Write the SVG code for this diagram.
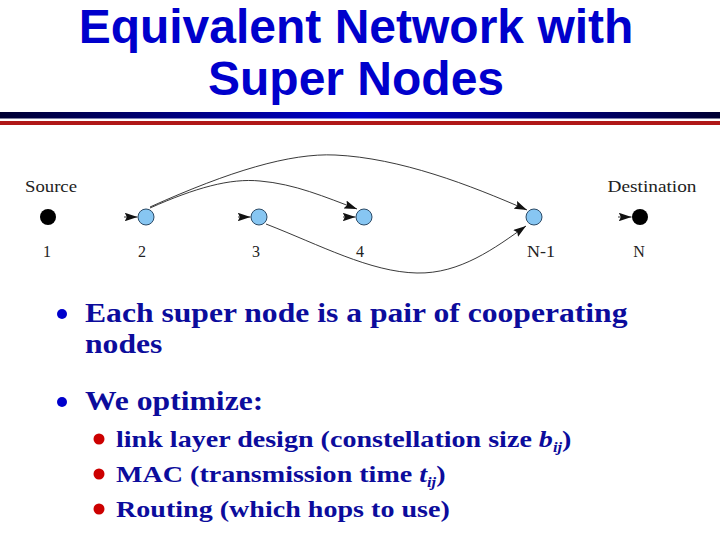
<svg xmlns="http://www.w3.org/2000/svg" width="720" height="540" viewBox="0 0 720 540">
<defs>
<linearGradient id="band" x1="0" y1="0" x2="1" y2="0">
<stop offset="0" stop-color="#000033"/>
<stop offset="0.5" stop-color="#0000cc"/>
<stop offset="1" stop-color="#000033"/>
</linearGradient>
<marker id="arr" viewBox="0 0 12 8" refX="12" refY="4" markerWidth="13" markerHeight="8.5" markerUnits="userSpaceOnUse" orient="auto">
<path d="M0,0 L12,4 L0,8 L2,4 z" fill="#111"/>
</marker>
<style>
.title{font-family:"Liberation Sans",Arial,sans-serif;font-weight:bold;font-size:48px;fill:#0000cc;text-anchor:middle}
.body{font-family:"Liberation Serif","Times New Roman",serif;font-weight:bold;fill:#0c0c9c}
.lbl{font-family:"Liberation Serif","Times New Roman",serif;font-size:16px;fill:#222}
.sn{fill:#87c6f2;stroke:#2c4a66;stroke-width:1}
.end{fill:#000}
.edge{fill:none;stroke:#222;stroke-width:0.9;marker-end:url(#arr)}
.bb{fill:#0000cc}
.rb{fill:#cc0000}
</style>
</defs>
<rect width="720" height="540" fill="#fff"/>
<text class="title" x="356" y="43">Equivalent Network with</text>
<text class="title" x="356" y="95">Super Nodes</text>
<rect x="0" y="112" width="720" height="6.5" fill="url(#band)"/>
<rect x="0" y="121" width="720" height="4" fill="#b01818"/>

<g id="connectors">
<path class="edge" d="M124,217 L137.5,217"/>
<path class="edge" d="M238,217 L250.5,217"/>
<path class="edge" d="M343,217 L355.5,217"/>
<path class="edge" d="M618,217 L631.5,217"/>
<path class="edge" d="M150,208 C195,188 230,178 260,181 C295,184 325,197 357,209"/>
<path class="edge" d="M150,207 C230,171 290,153 335,155 C400,158 470,185 527,210"/>
<path class="edge" d="M266,224 C320,245 370,272 417,273 C460,274 495,248 526,226"/>
</g>

<g id="n1"><circle class="end" cx="48" cy="217" r="8"/><text class="lbl" x="51" y="192" text-anchor="middle" textLength="52" lengthAdjust="spacingAndGlyphs">Source</text><text class="lbl" x="47" y="257" text-anchor="middle">1</text></g>
<g id="n2"><circle class="sn" cx="146" cy="217" r="8"/><text class="lbl" x="142" y="257" text-anchor="middle">2</text></g>
<g id="n3"><circle class="sn" cx="259" cy="217" r="8"/><text class="lbl" x="256" y="257" text-anchor="middle">3</text></g>
<g id="n4"><circle class="sn" cx="364" cy="217" r="8"/><text class="lbl" x="360" y="257" text-anchor="middle">4</text></g>
<g id="nN1"><circle class="sn" cx="534" cy="217" r="8"/><text class="lbl" x="541" y="257" text-anchor="middle" textLength="28" lengthAdjust="spacingAndGlyphs">N-1</text></g>
<g id="nN"><circle class="end" cx="640" cy="217" r="8"/><text class="lbl" x="652" y="192" text-anchor="middle" textLength="89" lengthAdjust="spacingAndGlyphs">Destination</text><text class="lbl" x="639" y="257" text-anchor="middle">N</text></g>

<g id="bullets">
<circle class="bb" cx="62" cy="314" r="5"/>
<circle class="bb" cx="62" cy="402" r="5"/>
<circle class="rb" cx="99" cy="439" r="5.5"/>
<circle class="rb" cx="99" cy="474" r="5.5"/>
<circle class="rb" cx="99" cy="509" r="5.5"/>
<g transform="translate(85,0) scale(1.15,1)">
<text class="body" x="0" y="322" font-size="27.5">Each super node is a pair of cooperating</text>
<text class="body" x="0" y="353" font-size="27.5">nodes</text>
<text class="body" x="0" y="410" font-size="27.5">We optimize:</text>
</g>
<g transform="translate(116,0) scale(1.17,1)">
<text class="body" x="0" y="447" font-size="24">link layer design (constellation size <tspan font-style="italic">b</tspan><tspan font-style="italic" font-size="14" dy="5">ij</tspan><tspan dy="-5">)</tspan></text>
<text class="body" x="0" y="482" font-size="24">MAC (transmission time <tspan font-style="italic">t</tspan><tspan font-style="italic" font-size="14" dy="5">ij</tspan><tspan dy="-5">)</tspan></text>
<text class="body" x="0" y="517" font-size="24">Routing (which hops to use)</text>
</g>
</g>
</svg>
